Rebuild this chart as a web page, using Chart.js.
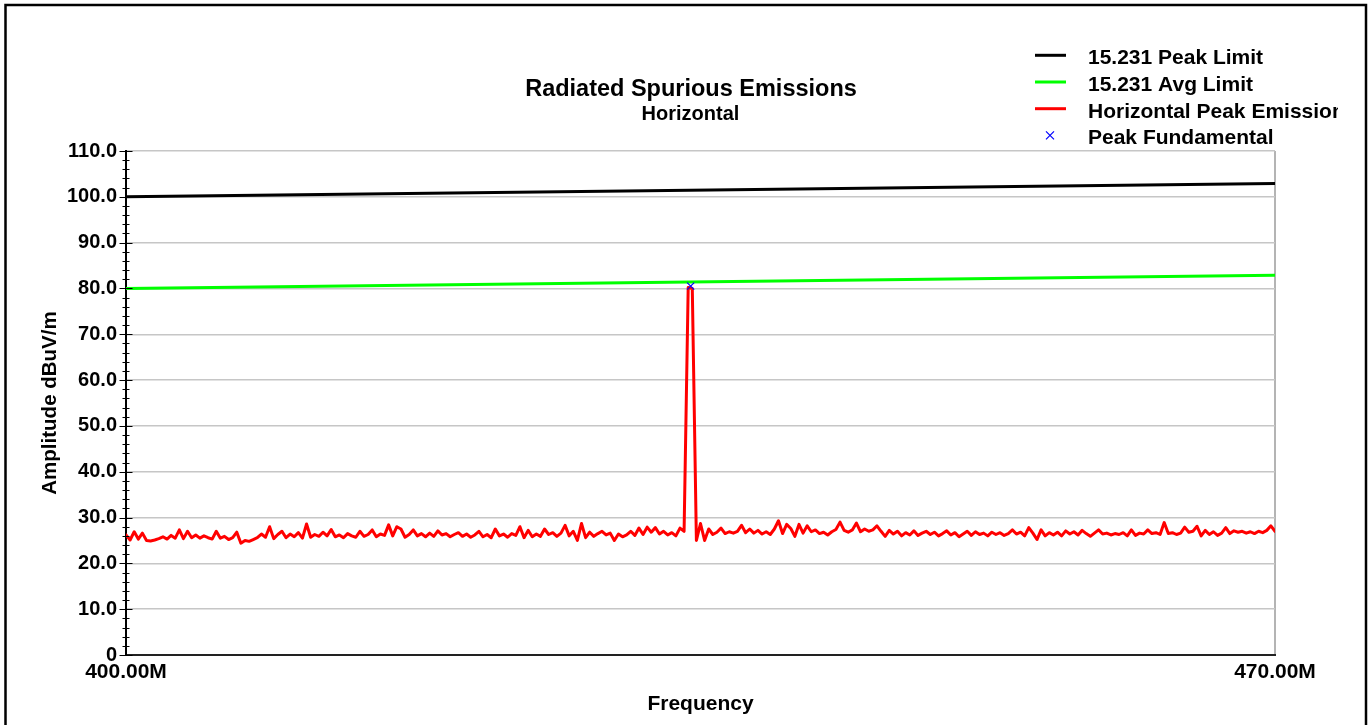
<!DOCTYPE html>
<html>
<head>
<meta charset="utf-8">
<title>Radiated Spurious Emissions</title>
<script src="https://cdn.jsdelivr.net/npm/chart.js@4.4.1/dist/chart.umd.min.js"></script>
<style>
  html, body { margin: 0; padding: 0; background: #fff; }
  #wrap { width: 1369px; height: 725px; }
</style>
</head>
<body>
<div id="wrap"><canvas id="mainChart" width="1369" height="725"></canvas></div>
<script>
// limit lines (MHz / dBuV/m)
const limitFreqs = [400, 470];
const peakLimit = [100.0, 102.9];
const avgLimit = [80.0, 82.9];

// peak fundamental marker
const fundFreq = [434.4];
const fundLevel = [80.5];

// horizontal peak sweep, 400 MHz to 470 MHz in 0.25 MHz steps
const sweepStart = 400;
const sweepStep = 0.25;
const sweepLevels = [
  26.2, 25.1, 26.9, 25.3, 26.6, 25.0, 24.9, 25.1, 25.4, 25.8,
  25.3, 26.1, 25.5, 27.3, 25.4, 27.0, 25.6, 26.2, 25.5, 26.0,
  25.6, 25.3, 27.0, 25.5, 25.9, 25.2, 25.6, 26.8, 24.4, 25.0,
  24.8, 25.2, 25.6, 26.4, 25.7, 28.0, 25.4, 26.3, 27.0, 25.6,
  26.4, 25.8, 26.7, 25.5, 28.6, 25.7, 26.3, 25.9, 26.8, 26.0,
  27.4, 25.8, 26.2, 25.6, 26.5, 26.0, 25.7, 27.0, 25.9, 26.3,
  27.3, 25.8, 26.4, 26.1, 28.4, 26.0, 28.0, 27.5, 25.7, 26.3,
  27.3, 26.0, 26.5, 25.8, 26.6, 25.9, 27.1, 26.2, 26.5, 25.8,
  26.3, 26.7, 25.9, 26.4, 25.7, 26.2, 27.0, 25.8, 26.3, 25.6,
  27.5, 26.0, 26.4, 25.7, 26.5, 26.1, 28.0, 25.6, 27.2, 25.8,
  26.4, 25.9, 27.5, 26.3, 26.7, 25.9, 26.6, 28.3, 26.0, 27.0,
  25.0, 28.7, 25.6, 26.8, 25.9, 26.5, 27.0, 26.2, 26.6, 25.0,
  26.4, 25.8, 26.2, 27.0, 26.1, 27.7, 26.3, 27.9, 26.8, 27.8,
  26.4, 27.0, 26.2, 26.7, 26.0, 27.7, 27.0, 80.2, 80.0, 25.0,
  28.7, 25.0, 27.5, 26.3, 26.8, 27.7, 26.5, 26.9, 26.6, 27.0,
  28.3, 26.7, 27.5, 26.6, 27.2, 26.4, 26.9, 26.3, 27.5, 29.3,
  26.5, 28.5, 27.6, 25.9, 28.5, 26.6, 28.2, 26.9, 27.3, 26.5,
  26.8, 26.2, 26.9, 27.4, 29.0, 27.2, 26.8, 27.3, 28.8, 26.9,
  27.5, 27.0, 27.3, 28.2, 27.0, 25.9, 27.2, 26.4, 27.0, 26.0,
  26.7, 26.2, 27.1, 26.1, 26.6, 27.0, 26.3, 26.8, 26.0, 26.5,
  27.1, 26.2, 26.7, 25.8, 26.4, 27.0, 26.1, 26.9, 26.3, 26.6,
  26.0, 26.8, 26.3, 26.7, 26.1, 26.5, 27.3, 26.4, 26.8, 26.0,
  27.8, 26.6, 25.2, 27.3, 26.0, 26.7, 26.2, 26.8, 26.0, 27.1,
  26.4, 26.9, 26.2, 27.2, 26.5, 25.9, 26.6, 27.3, 26.4, 26.6,
  26.2, 26.5, 26.3, 26.7, 26.0, 27.3, 26.1, 26.6, 26.4, 27.3,
  26.5, 26.7, 26.3, 28.9, 26.5, 26.7, 26.3, 26.6, 27.9, 26.8,
  27.0, 28.1, 26.0, 27.2, 26.3, 26.9, 26.1, 26.6, 27.8, 26.5,
  27.1, 26.8, 27.0, 26.6, 26.9, 26.5, 27.0, 26.7, 27.2, 28.2,
  27.0
];

const yTickValues = [0, 10, 20, 30, 40, 50, 60, 70, 80, 90, 100, 110];
const xTickValues = [400, 470];

const titleText = 'Radiated Spurious Emissions';
const subtitleText = 'Horizontal';

const FONT = "'Liberation Sans', Arial, sans-serif";
Chart.defaults.font.family = FONT;
Chart.defaults.color = '#000';

function pairs(xs, ys) {
  return ys.map((y, i) => ({x: xs[i], y: y}));
}

const sweepData = sweepLevels.map((y, i) => ({x: sweepStart + i * sweepStep, y: y}));

// title, legend, frame and the y axis tick marks
const decorPlugin = {
  id: 'decor',
  afterDraw(chart) {
    const ctx = chart.ctx;
    const area = chart.chartArea;
    const yScale = chart.scales.y;
    ctx.save();

    // tick marks crossing the y axis
    ctx.strokeStyle = '#000';
    ctx.lineWidth = 1;
    for (let v = 0; v <= 110; v += 2) {
      const py = Math.round(yScale.getPixelForValue(v)) + 0.5;
      const half = v % 10 === 0 ? 6.5 : 3.5;
      ctx.beginPath();
      ctx.moveTo(area.left - half, py);
      ctx.lineTo(area.left + half, py);
      ctx.stroke();
    }

    // titles
    ctx.fillStyle = '#000';
    ctx.textAlign = 'center';
    ctx.textBaseline = 'alphabetic';
    ctx.font = 'bold 23.5px ' + FONT;
    ctx.fillText(titleText, 691, 95.5);
    ctx.font = 'bold 20px ' + FONT;
    ctx.fillText(subtitleText, 690.5, 119.5);

    // legend
    ctx.save();
    ctx.beginPath();
    ctx.rect(1020, 30, 1338 - 1020, 125);
    ctx.clip();
    ctx.font = 'bold 21px ' + FONT;
    ctx.textAlign = 'left';
    chart.data.datasets.forEach((ds, i) => {
      const base = 64.3 + i * 26.7;
      const midY = base - 9;
      if (ds.showLine === false) {
        ctx.strokeStyle = ds.borderColor;
        ctx.lineWidth = 1.2;
        ctx.beginPath();
        ctx.moveTo(1046, midY - 4); ctx.lineTo(1054, midY + 4);
        ctx.moveTo(1054, midY - 4); ctx.lineTo(1046, midY + 4);
        ctx.stroke();
      } else {
        ctx.strokeStyle = ds.borderColor;
        ctx.lineWidth = 3;
        ctx.beginPath();
        ctx.moveTo(1035, midY);
        ctx.lineTo(1066, midY);
        ctx.stroke();
      }
      ctx.fillStyle = '#000';
      ctx.fillText(ds.label, 1088, base);
    });
    ctx.restore();

    // outer frame
    ctx.strokeStyle = '#000';
    ctx.lineWidth = 2.5;
    ctx.strokeRect(5.5, 5, 1360.5, 760);
    ctx.restore();
  }
};

const ctx = document.getElementById('mainChart').getContext('2d');
const chart = new Chart(ctx, {
  type: 'line',
  data: {
    datasets: [
      {
        label: '15.231 Peak Limit',
        data: pairs(limitFreqs, peakLimit),
        borderColor: '#000000',
        borderWidth: 3,
        pointRadius: 0,
        order: 3,
      },
      {
        label: '15.231 Avg Limit',
        data: pairs(limitFreqs, avgLimit),
        borderColor: '#00ff00',
        borderWidth: 3,
        pointRadius: 0,
        order: 2,
      },
      {
        label: 'Horizontal Peak Emission',
        data: sweepData,
        borderColor: '#ff0000',
        borderWidth: 3,
        borderJoinStyle: 'round',
        borderCapStyle: 'round',
        pointRadius: 0,
        order: 1,
      },
      {
        label: 'Peak Fundamental',
        data: pairs(fundFreq, fundLevel),
        borderColor: '#0000ff',
        backgroundColor: '#0000ff',
        showLine: false,
        pointStyle: 'crossRot',
        pointRadius: 5,
        borderWidth: 1.2,
        order: 0,
      },
    ],
  },
  options: {
    responsive: false,
    animation: false,
    devicePixelRatio: 1,
    layout: { padding: { top: 151, right: 94, left: 0, bottom: 0 } },
    plugins: {
      legend: { display: false },
      title: { display: false },
      tooltip: { enabled: false },
    },
    scales: {
      x: {
        type: 'linear',
        min: 400,
        max: 470,
        afterBuildTicks: (scale) => { scale.ticks = xTickValues.map(v => ({value: v})); },
        afterFit: (scale) => { scale.height = 70; },
        ticks: {
          autoSkip: false,
          maxRotation: 0,
          padding: 5,
          font: { size: 21, weight: 'bold' },
          callback: (v) => v.toFixed(2) + 'M',
        },
        grid: {
          drawTicks: false,
          lineWidth: 2,
          color: (c) => (c.tick && c.tick.value === 470 ? '#b4b4b4' : 'rgba(0,0,0,0)'),
        },
        border: { color: '#222', width: 2 },
        title: {
          display: true,
          text: 'Frequency',
          font: { size: 21, weight: 'bold' },
          padding: { top: 0, bottom: 8 },
        },
      },
      y: {
        min: 0,
        max: 110,
        afterBuildTicks: (scale) => { scale.ticks = yTickValues.map(v => ({value: v})); },
        afterFit: (scale) => { scale.width = 126; },
        ticks: {
          padding: 9,
          font: { size: 20, weight: 'bold' },
          callback: (v) => (v === 0 ? '0' : v.toFixed(1)),
        },
        grid: {
          drawTicks: false,
          lineWidth: 1.5,
          color: '#c6c6c6',
        },
        border: { color: '#000', width: 2 },
        title: {
          display: true,
          text: 'Amplitude dBuV/m',
          font: { size: 20.5, weight: 'bold' },
          padding: { top: 38, bottom: 0 },
        },
      },
    },
  },
  plugins: [decorPlugin],
});
</script>
</body>
</html>
